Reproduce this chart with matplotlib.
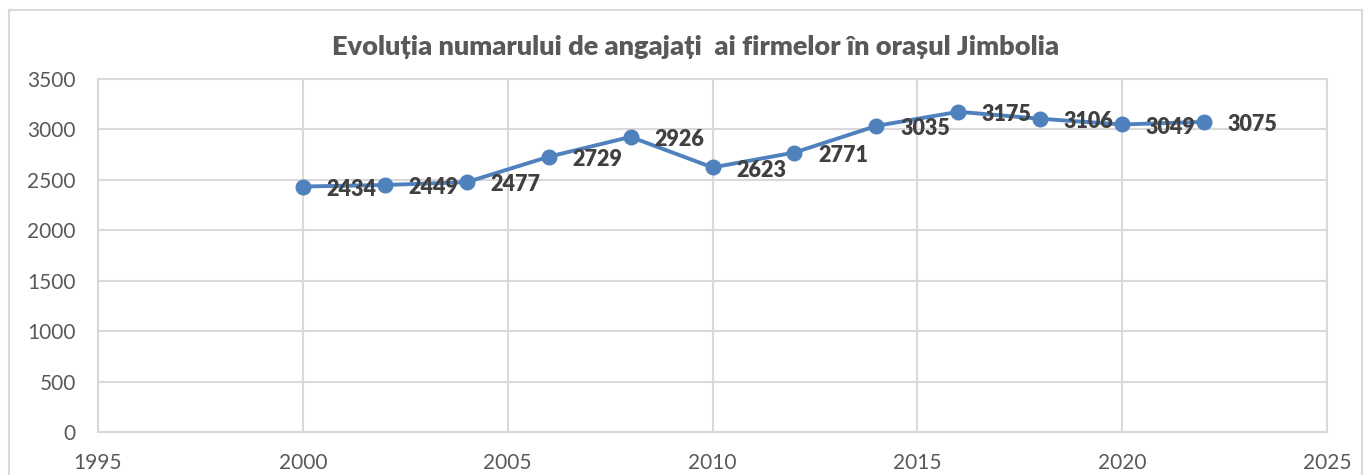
import matplotlib
matplotlib.use("Agg")
import matplotlib.pyplot as plt
from matplotlib.patches import Rectangle

years = [2000, 2002, 2004, 2006, 2008, 2010, 2012, 2014, 2016, 2018, 2020, 2022]
employees = [2434, 2449, 2477, 2729, 2926, 2623, 2771, 3035, 3175, 3106, 3049, 3075]
x_ticks = [1995, 2000, 2005, 2010, 2015, 2020, 2025]
y_ticks = [0, 500, 1000, 1500, 2000, 2500, 3000, 3500]
title = "Evoluția numarului de angajați  ai firmelor în orașul Jimbolia"

plt.rcParams['font.family'] = ['Lato', 'DejaVu Sans']

W, H = 1369, 475
fig = plt.figure(figsize=(W / 100, H / 100), dpi=100)
ax = fig.add_axes([98 / W, 1 - 432 / H, (1327 - 98) / W, (432 - 79) / H])

# outer chart frame
fig.patches.append(Rectangle((9 / W, -0.1), (1362 - 9) / W, 1.1 - 10 / H,
                             transform=fig.transFigure, fill=False,
                             edgecolor='#d9d9d9', linewidth=1.5))

line_color = '#4f81bd'
ax.plot(years, employees, color=line_color, linewidth=2.8, marker='o',
        markersize=10.5, zorder=3, clip_on=False)

for x, y in zip(years, employees):
    ax.annotate(str(y), (x, y), xytext=(17, -2), textcoords='offset points',
                ha='left', va='center', fontsize=15.5, fontweight='heavy',
                color='#404040', zorder=4)

ax.set_xlim(1995, 2025)
ax.set_ylim(0, 3500)
ax.set_xticks(x_ticks)
ax.set_yticks(y_ticks)
ax.grid(True, color='#d9d9d9', linewidth=1.5, zorder=0)
ax.set_axisbelow(True)
for s in ax.spines.values():
    s.set_color('#d9d9d9')
    s.set_linewidth(1.5)
ax.tick_params(axis='both', length=0, labelsize=15, labelcolor='#595959')
ax.tick_params(axis='y', pad=16)
ax.tick_params(axis='x', pad=15)

fig.text(0.508, 1 - 47 / H, title, ha='center', va='center', fontsize=19.5,
         fontweight='heavy', color='#595959')

fig.savefig('out.png', dpi=100)
